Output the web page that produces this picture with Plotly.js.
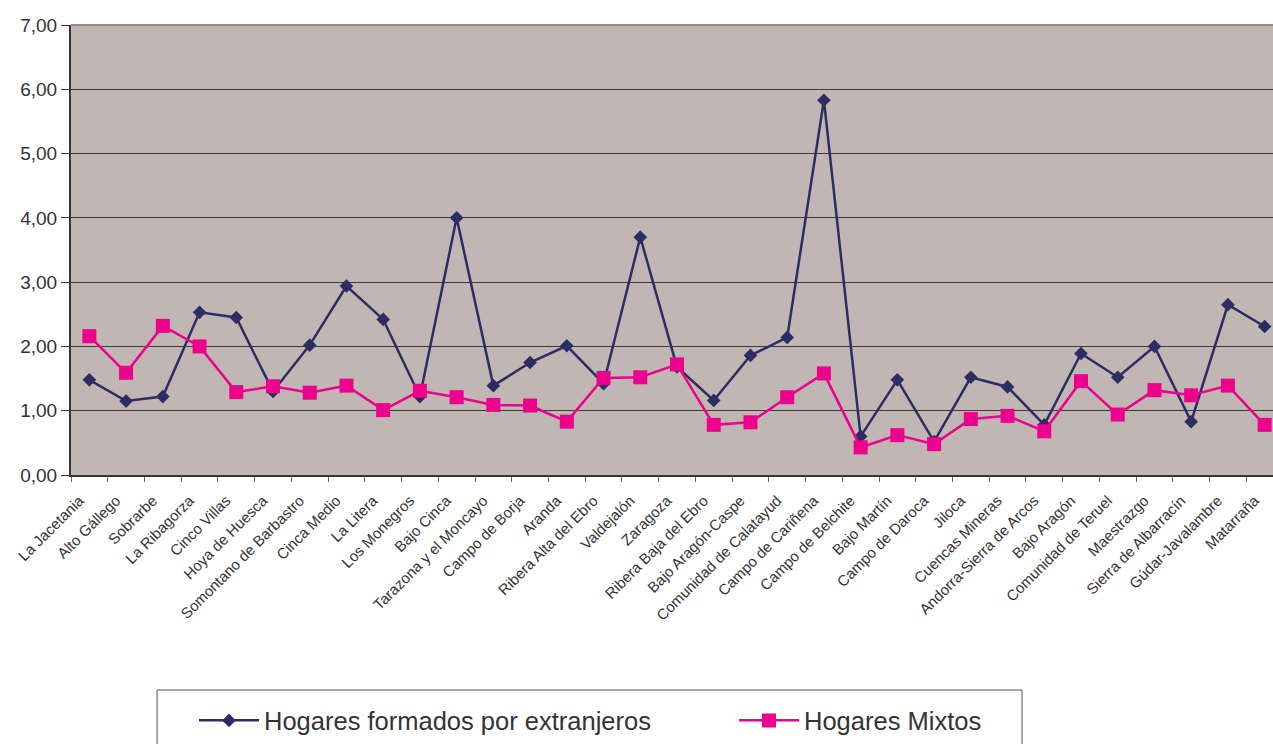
<!DOCTYPE html>
<html>
<head>
<meta charset="utf-8">
<script src="https://cdn.plot.ly/plotly-3.0.1.min.js"></script>
<style>
html,body{margin:0;padding:0;overflow:hidden;background:#fff;}
#chart{width:1290px;height:744px;}
</style>
</head>
<body>
<div id="chart"></div>
<script>
var comarcas = ["La Jacetania","Alto Gállego","Sobrarbe","La Ribagorza","Cinco Villas","Hoya de Huesca","Somontano de Barbastro","Cinca Medio","La Litera","Los Monegros","Bajo Cinca","Tarazona y el Moncayo","Campo de Borja","Aranda","Ribera Alta del Ebro","Valdejalón","Zaragoza","Ribera Baja del Ebro","Bajo Aragón-Caspe","Comunidad de Calatayud","Campo de Cariñena","Campo de Belchite","Bajo Martín","Campo de Daroca","Jiloca","Cuencas Mineras","Andorra-Sierra de Arcos","Bajo Aragón","Comunidad de Teruel","Maestrazgo","Sierra de Albarracín","Gúdar-Javalambre","Matarraña"];
var extranjeros = [1.48,1.15,1.22,2.53,2.45,1.30,2.02,2.94,2.42,1.22,4.00,1.39,1.75,2.01,1.42,3.70,1.68,1.16,1.86,2.14,5.83,0.60,1.48,0.52,1.52,1.37,0.78,1.89,1.52,2.00,0.83,2.65,2.31];
var mixtos = [2.16,1.59,2.32,2.00,1.29,1.38,1.28,1.39,1.01,1.31,1.21,1.09,1.08,0.83,1.51,1.52,1.72,0.78,0.82,1.21,1.58,0.43,0.62,0.48,0.87,0.92,0.68,1.46,0.94,1.32,1.24,1.39,0.78];
var serieNames = ["Hogares formados por extranjeros","Hogares Mixtos"];

var font = "Liberation Sans, Arial, sans-serif";
var traces = [
  {x: comarcas, y: extranjeros, name: serieNames[0], type: "scatter", mode: "lines+markers",
   line: {color: "#2E2D63", width: 2.5},
   marker: {symbol: "diamond", size: 10.5, color: "#2E2D63"}},
  {x: comarcas, y: mixtos, name: serieNames[1], type: "scatter", mode: "lines+markers",
   line: {color: "#EC008C", width: 2.5},
   marker: {symbol: "square", size: 14, color: "#EC008C"}}
];
var layout = {
  width: 1290, height: 744,
  margin: {l: 71, r: 7, t: 25, b: 269, autoexpand: false},
  paper_bgcolor: "#ffffff",
  plot_bgcolor: "#C0B7B4",
  separators: ",.",
  font: {family: font, color: "#333333"},
  showlegend: true,
  xaxis: {
    type: "category", automargin: false,
    tickangle: -45,
    tickfont: {family: font, size: 15, color: "#333333"},
    ticklabelshift: -10, ticklabelstandoff: 9,
    ticks: "outside", ticklen: 5, tickcolor: "#666666", tickson: "boundaries",
    showline: true, linecolor: "#3a3535", linewidth: 2,
    showgrid: false, zeroline: false,
    range: [-0.5, 32.5]
  },
  yaxis: {
    automargin: false,
    range: [0, 7], dtick: 1, tickformat: ".2f",
    tickfont: {family: font, size: 19, color: "#333333"},
    ticks: "outside", ticklen: 8, tickcolor: "#3a3535",
    showline: true, linecolor: "#3a3535", linewidth: 2,
    showgrid: true, gridcolor: "#3f3a3a", gridwidth: 1,
    zeroline: false
  },
  shapes: [
    {type: "line", xref: "paper", yref: "paper", x0: 0, x1: 1, y0: 1, y1: 1,
     line: {color: "#968a87", width: 2}},
    {type: "rect", xref: "paper", yref: "paper", x0: 0.071, x1: 0.7847, y0: -0.4778, y1: -0.64,
     line: {color: "#555555", width: 1}, fillcolor: "rgba(0,0,0,0)"}
  ],
  legend: {
    orientation: "h", x: 0.1015, y: -0.494, xanchor: "left", yanchor: "top",
    font: {family: font, size: 25.5, color: "#333333"},
    bgcolor: "rgba(0,0,0,0)", borderwidth: 0,
    itemwidth: 60, entrywidth: 465, entrywidthmode: "pixels"
  }
};
Plotly.newPlot("chart", traces, layout, {displayModeBar: false, staticPlot: true});
</script>
</body>
</html>
